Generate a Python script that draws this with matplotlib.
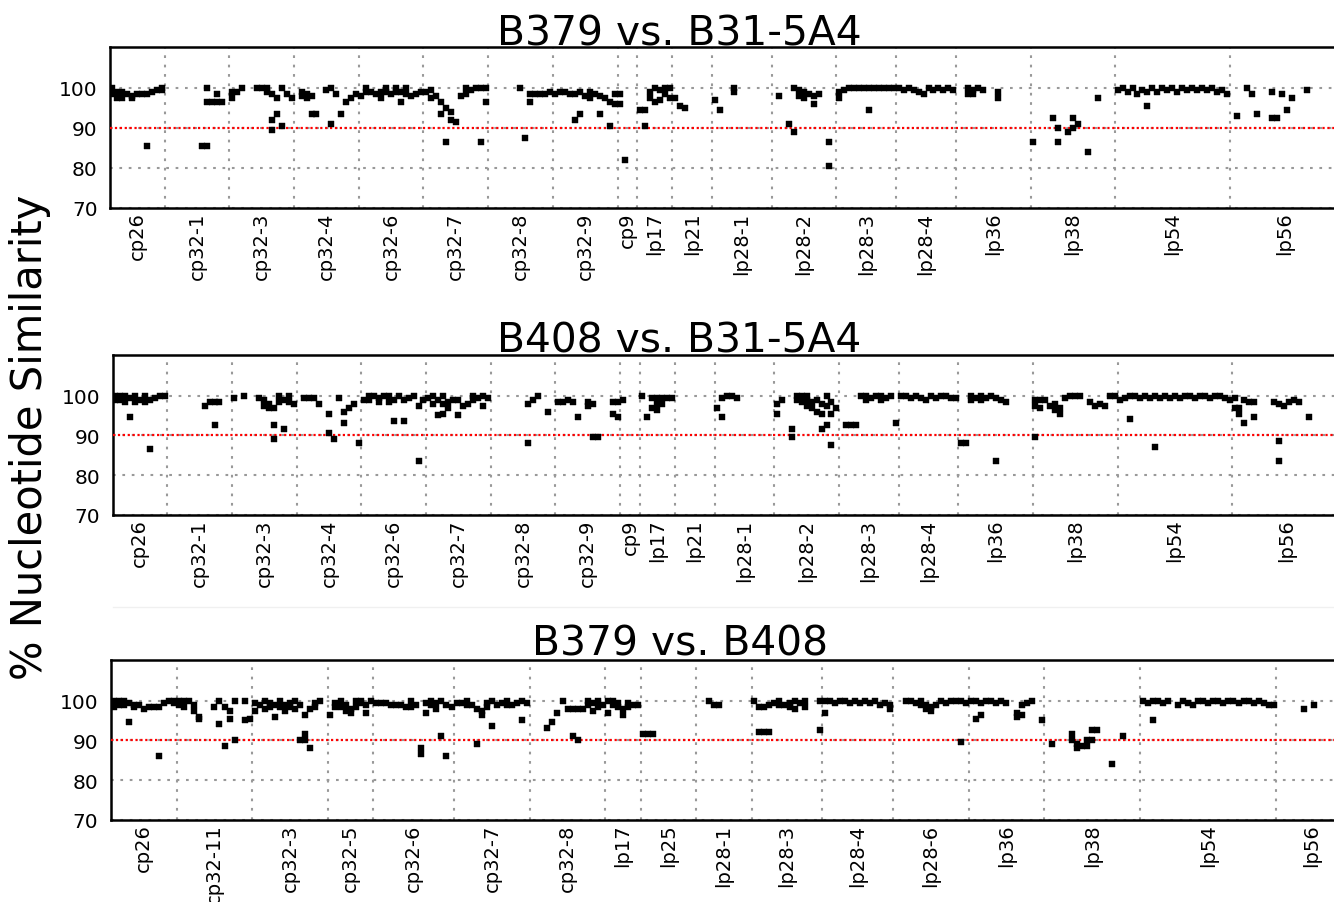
import numpy as np
import matplotlib
matplotlib.use("Agg")
import matplotlib.pyplot as plt
from matplotlib.lines import Line2D

_ = None

# ---------------- Panel 1: B379 vs. B31-5A4 ----------------
title_1 = "B379 vs. B31-5A4"
plasmids_1 = ["cp26", "cp32-1", "cp32-3", "cp32-4", "cp32-6", "cp32-7", "cp32-8", "cp32-9",
              "cp9", "lp17", "lp21", "lp28-1", "lp28-2", "lp28-3", "lp28-4", "lp36", "lp38",
              "lp54", "lp56"]
cp26_1 = [(100, 98.5), (99, 97.5), (99, 97.5), 98.5, (98, 97.5), 98.5, 98.5, (98.5, 85.5), 99, 99.5, (100, 99.5)]
cp32_1_1 = [_, _, _, _, _, _, _, 85.5, (100, 96.5, 85.5), 96.5, (98.5, 96.5), 96.5, _]
cp32_3_1 = [(99, 97.5), 99, 100, _, _, 100, 100, (100, 99), (98.5, 92, 89.5), (97.5, 93.5), (100, 90.5), 98.5, 97.5]
cp32_4_1 = [_, (99, 98), (98.5, 97.5), (98, 93.5), 93.5, _, 99.5, (100, 91), 98.5, 93.5, 96.5, 97.5, 98.5]
cp32_6_1 = [98, (100, 99), 99, 98.5, (99, 97.5), (100, 99), 98.5, (100, 99), (99, 96.5), (100, 98.5), 98, 98.5, 99]
cp32_7_1 = [99, (99.5, 97.5), 98, (96.5, 93.5), (95, 86.5), (94, 92), 91.5, 98, (100, 98.5), 99.5, 100, (100, 86.5), (100, 96.5)]
cp32_8_1 = [_, _, _, _, _, _, 100, 87.5, (98.5, 96.5), 98.5, 98.5, 98.5, 99]
cp32_9_1 = [98.5, 99, 99, 98.5, (98.5, 92), (99, 93.5), 98, (99, 97.5), 98.5, (98, 93.5), 97.5, (96.5, 90.5), (98.5, 96)]
cp9_1 = [(98.5, 96), 82, _, _]
lp17_1 = [94.5, (94.5, 90.5), (99, 97.5), (100, 96.5), (99.5, 97), (100, 98.5), (100, 97.5)]
lp21_1 = [97.5, 95.5, 95, _, _, _, _, _]
lp28_1_1 = [97, 94.5, _, _, (100, 99), _, _, _, _, _, _, _]
lp28_2_1 = [_, 98, _, 91, (100, 89), (99.5, 98), (99, 97.5), 98.5, (98, 96), 98.5, _, (86.5, 80.5), _]
lp28_3_1 = [(99, 97.5), 99.5, 100, 100, 100, 100, (100, 94.5), 100, 100, 100, 100, 100]
lp28_4_1 = [100, 99.5, 100, 99.5, 99, 98.5, 100, 99.5, 100, 99.5, 100, 99.5]
lp36_1 = [_, _, (100, 98.5), (99.5, 98.5), 100, 99.5, _, _, (99, 97.5), _, _, _, _, _, _]
lp38_1 = [86.5, _, _, _, 92.5, (90, 86.5), _, 89, (92.5, 90), 91, _, 84, _, 97.5, _, _, _]
lp54_1 = [99.5, 100, 99, 100, 98.5, 99.5, (99, 95.5), 100, 99, 100, 99.5, 100, 99, 100, 99.5, 100,
          99.5, 100, 99.5, 100, 99, 99.5, 98.5]
lp56_1 = [_, 93, _, 100, 98.5, 93.5, _, _, (99, 92.5), 92.5, 98.5, 94.5, 97.5, _, _, 99.5, _, _, _, _, _, _]
values_1 = [cp26_1, cp32_1_1, cp32_3_1, cp32_4_1, cp32_6_1, cp32_7_1, cp32_8_1, cp32_9_1, cp9_1,
            lp17_1, lp21_1, lp28_1_1, lp28_2_1, lp28_3_1, lp28_4_1, lp36_1, lp38_1, lp54_1, lp56_1]

# ---------------- Panel 2: B408 vs. B31-5A4 ----------------
title_2 = "B408 vs. B31-5A4"
plasmids_2 = list(plasmids_1)
cp26_2 = [(100, 99), (100, 99), (100, 98.5), (99.5, 94.5), (100, 98.5), 99, (100, 98.5), (99, 86.5), 99.5, 100, 100]
cp32_1_2 = [_, _, _, _, _, _, _, 97.5, 98.5, (98.5, 92.5), 98.5, _, _]
cp32_3_2 = [99.5, _, 100, _, _, 99.5, (99, 97.5), (98, 97), (97, 92.5, 89), (100, 98.5), (99, 91.5), (100, 98.5), 98]
cp32_4_2 = [_, 99.5, 99.5, 99.5, 98, _, (95.5, 90.5), 89, 99.5, (96, 93), 97, 98, 88]
cp32_6_2 = [99, (100, 99), 100, (99.5, 98.5), 100, (100, 98.5), (99, 93.5), 100, (99, 93.5), 99.5, 100, (97.5, 83.5), 99]
cp32_7_2 = [99.5, (100, 98), (99, 95), (100, 98, 95.5), (98.5, 97), 99, (99, 95), 97.5, 98, (100, 99), 99.5, (100, 97.5), 99.5]
cp32_8_2 = [_, _, _, _, _, _, _, (98, 88), 99, 100, _, 96, _]
cp32_9_2 = [98.5, 98.5, 99, 98.5, 94.5, _, (98.5, 97.5), (98, 89.5), 89.5, _, _, (98.5, 95.5), (98.5, 94.5)]
cp9_2 = [99, _, _, _]
lp17_2 = [100, 94.5, (99.5, 97), (99.5, 98, 96.5), (99.5, 98), 99.5, 99.5]
lp21_2 = [_, _, _, _, _, _, _, _]
lp28_1_2 = [97, (99.5, 94.5), 100, 100, 99.5, _, _, _, _, _, _, _]
lp28_2_2 = [(98, 95.5), 99, _, (91.5, 89.5), (100, 99), (100, 98.5), (100, 99, 97.5), (98.5, 97), (99, 96),
            (98, 95.5, 91.5), (100, 97.5, 92.5), (98.5, 95.5, 87.5), 97]
lp28_3_2 = [_, 92.5, 92.5, 92.5, 100, (100, 99), 99.5, 100, (100, 99), 99.5, 100, 93]
lp28_4_2 = [100, 100, 99.5, 100, 99.5, 99, 100, 99.5, 100, 100, 99.5, 99.5]
lp36_2 = [88, 88, (100, 99), 99.5, (100, 99), 99.5, 100, (99.5, 83.5), 99, 98.5, _, _, _, _, _]
lp38_2 = [(99, 97.5, 89.5), (99, 97), 99, 97.5, (98, 96.5), (97, 95.5), 99.5, 100, 100, 100, _, 98.5, 97.5,
          98, 97.5, 100, 100]
lp54_2 = [99, 99.5, (100, 94), 100, 99.5, 100, 99.5, (100, 87), 99.5, 100, 99.5, 100, 99.5, 100, 100, 99.5,
          100, 100, 99.5, 100, 100, 99.5, 99]
lp56_2 = [(99.5, 97), (97, 95.5), (99, 93), 98.5, (98.5, 94.5), _, _, _, 98.5, (98, 88.5, 83.5), 97.5, 98.5,
          99, 98.5, _, 94.5, _, _, _, _, _, _]
values_2 = [cp26_2, cp32_1_2, cp32_3_2, cp32_4_2, cp32_6_2, cp32_7_2, cp32_8_2, cp32_9_2, cp9_2,
            lp17_2, lp21_2, lp28_1_2, lp28_2_2, lp28_3_2, lp28_4_2, lp36_2, lp38_2, lp54_2, lp56_2]

# ---------------- Panel 3: B379 vs. B408 ----------------
title_3 = "B379 vs. B408"
plasmids_3 = ["cp26", "cp32-11", "cp32-3", "cp32-5", "cp32-6", "cp32-7", "cp32-8", "lp17", "lp25",
              "lp28-1", "lp28-3", "lp28-4", "lp28-6", "lp36", "lp38", "lp54", "lp56"]
cp26_3 = [(100, 98.5), (100, 99), (100, 99), (99.5, 94.5), (99, 98.5), 99, 98, 98.5, 98.5, (98.5, 86), 99.5, 100, (100, 99.5)]
cp32_11_3 = [(100, 99), (100, 98.5), 100, (99, 97.5), (96, 95.5), _, _, 98.5, (100, 94), (98.5, 88.5),
             (97.5, 95.5), (100, 90), _, (100, 95), 95.5]
cp32_3_3 = [(99.5, 97.5), 99, (100, 98), (99.5, 98.5), (99, 96), (100, 98.5), (99, 97.5), (99.5, 98.5),
            (100, 98), (99, 90), (96.5, 91.5, 90), (98, 88), (99.5, 98.5), 100, _]
cp32_5_3 = [96.5, (99.5, 98.5), (100, 98.5), (99, 97.5), (98, 97), (100, 98.5), (100, 99.5), (99, 97), 100]
cp32_6_3 = [99.5, 99.5, 99.5, 99, 99, 99, 98.5, (100, 98.5), 99, (88, 86.5), (99.5, 97), (100, 99),
            (99.5, 98), (100, 91), (99, 86), 98.5]
cp32_7_3 = [99.5, 99.5, (100, 99), 99, (98, 89), (97.5, 96.5), (98.5, 99.5), (100, 93.5), 99, 99.5,
            (100, 99), 99, 99.5, (100, 95), 99.5]
cp32_8_3 = [_, _, _, 93, 94.5, 97, 100, 98, (98, 91), (98, 90), 98, (100, 99), (99.5, 97.5), (100, 98.5), 99]
lp17_3 = [(100, 97), (100, 99), (99.5, 98.5), (98, 96.5), (99.5, 98.5), 99, 99]
lp25_3 = [91.5, 91.5, 91.5, _, _, _, _, _, _, _, _]
lp28_1_3 = [_, _, 100, 99, 99, _, _, _, _, _, _]
lp28_3_3 = [100, (98.5, 92), (98.5, 92), (99, 92), 99.5, (100, 99), 99, (99.5, 98.5), (100, 98), 99.5,
            (100, 98.5), _, _, (100, 92.5)]
lp28_4_3 = [(100, 97), 100, 99.5, 100, 100, 99.5, 100, 99.5, 100, 99.5, 100, 99, 99.5, (99, 98)]
lp28_6_3 = [_, _, 100, 100, 99.5, (100, 99), (99, 98), (98.5, 97.5), 99, 100, 99.5, 100, 100, (100, 89.5), 99.5]
lp36_3 = [100, (100, 95.5), (99.5, 96.5), 100, 100, 99.5, 100, 99.5, _, (97, 96), (99, 96.5), 99.5, 100, _, 95]
lp38_3 = [_, 89, _, _, _, (91.5, 90), (89, 88), 88.5, (90, 88.5), (92.5, 90), 92.5, _, _, 84, _, 91, _, _, _]
lp54_3 = [100, 99.5, (100, 95), 100, 99.5, 100, _, 99, 100, 99.5, 99, 100, 100, 99.5, 100, 100, 99.5, 100,
          100, 99.5, 100, 100, 99.5, 100, 99.5, 99, 99]
lp56_3 = [_, _, _, _, _, 98, _, 99, _, _, _, _, _, _]
values_3 = [cp26_3, cp32_11_3, cp32_3_3, cp32_5_3, cp32_6_3, cp32_7_3, cp32_8_3, lp17_3, lp25_3,
            lp28_1_3, lp28_3_3, lp28_4_3, lp28_6_3, lp36_3, lp38_3, lp54_3, lp56_3]

y_ticks = [70, 80, 90, 100]
threshold = 90
y_label = "% Nucleotide Similarity"

# ---------------- drawing ----------------
W, H = 1334, 903
fig = plt.figure(figsize=(W / 100, H / 100), dpi=100)
fig.patch.set_facecolor("white")

RECT = [(-1.15, -1.0), (1.15, -1.0), (1.15, 1.0), (-1.15, 1.0), (-1.15, -1.0)]


def px_axes(left, top, right, bottom):
    return fig.add_axes([left / W, 1 - bottom / H, (right - left) / W, (bottom - top) / H])


def draw(ax, names, values):
    counts = [len(v) for v in values]
    bounds = np.concatenate([[0], np.cumsum(counts)])
    xs, ys = [], []
    for start, vals in zip(bounds[:-1], values):
        for i, entry in enumerate(vals):
            if entry is None:
                continue
            items = entry if isinstance(entry, tuple) else (entry,)
            for y in items:
                xs.append(start + i + 0.5)
                ys.append(y)
    ax.plot(xs, ys, linestyle="none", marker=RECT, color="black", ms=5.0, mew=0.3,
            mec="black", zorder=4)
    ax.set_xlim(0, bounds[-1])
    ax.set_ylim(70, 110.2)
    ax.set_yticks(y_ticks)
    ax.set_yticklabels([str(t) for t in y_ticks])
    centers = (bounds[:-1] + bounds[1:]) / 2
    ax.set_xticks(centers)
    ax.set_xticklabels(names, rotation=90, fontsize=14)
    ax.set_xticks(bounds[1:-1], minor=True)
    ax.grid(which="minor", axis="x", color="#999999", linestyle=(0, (1.3, 3.2)), linewidth=1.5, zorder=1)
    ax.grid(which="major", axis="y", color="#999999", linestyle=(0, (1.3, 3.2)), linewidth=1.5, zorder=1)
    ax.grid(which="major", axis="x", visible=False)
    ax.axhline(threshold, color="red", linestyle=(0, (1, 1.2)), linewidth=1.6, zorder=3)
    ax.tick_params(which="both", length=0)
    ax.tick_params(axis="y", labelsize=14.5, pad=9)
    ax.tick_params(axis="x", pad=2.5)
    for s in ax.spines.values():
        s.set_linewidth(1.8)
        s.set_color("black")


ax1 = px_axes(110, 48, 1339, 209)
draw(ax1, plasmids_1, values_1)
ax2 = px_axes(112.5, 356, 1341.5, 516)
draw(ax2, plasmids_2, values_2)
ax3 = px_axes(111, 661, 1347, 821)
draw(ax3, plasmids_3, values_3)

fig.text(679.5 / W, 1 - 45 / H, title_1, ha="center", va="baseline", fontsize=29.3)
fig.text(679.5 / W, 1 - 353 / H, title_2, ha="center", va="baseline", fontsize=29.3)
fig.text(680 / W, 1 - 655 / H, title_3, ha="center", va="baseline", fontsize=29.3)

fig.text(42 / W, 1 - 437 / H, y_label, rotation=90, rotation_mode="anchor",
         ha="center", va="baseline", fontsize=30)

fig.add_artist(Line2D([113 / W, 1.0], [1 - 607.5 / H] * 2, color="#f0f0f0", linewidth=1.0))

fig.savefig("out.png", dpi=100, facecolor="white")
